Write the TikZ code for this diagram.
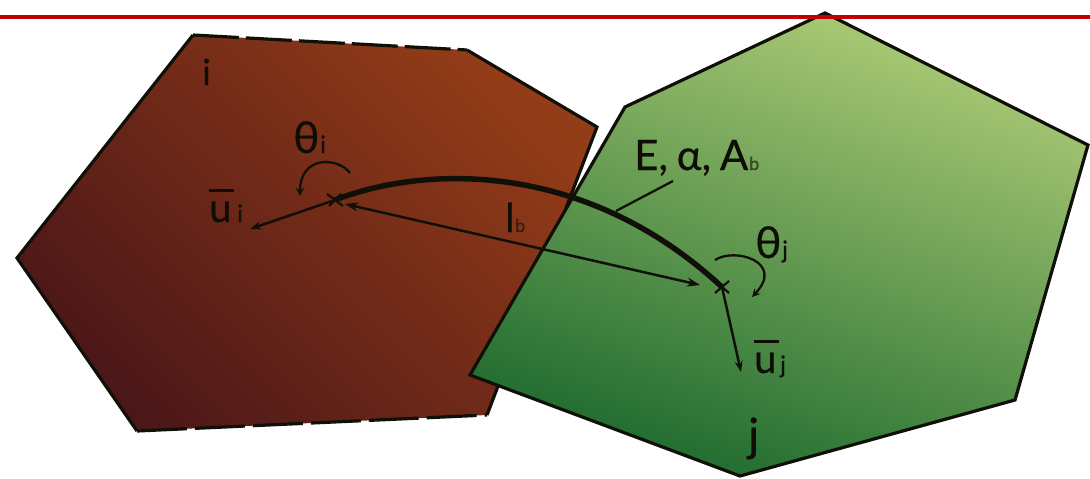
\documentclass[tikz,border=0pt]{standalone}
\usepackage{fontspec}
\setmainfont[FakeBold=0.5]{Lato}
\usetikzlibrary{arrows.meta}
\definecolor{rail}{HTML}{C00000}
\definecolor{inkc}{HTML}{101008}
\definecolor{redlo}{HTML}{4C1718}
\definecolor{redmid}{HTML}{843218}
\definecolor{redhi}{HTML}{933C18}
\definecolor{grnlo}{HTML}{1D6A2E}
\definecolor{grnmid}{HTML}{428843}
\definecolor{grnhi}{HTML}{ADCB76}
\newcommand{\barred}[1]{\rlap{\raisebox{30pt}{\rule{25pt}{2.6pt}}}#1}
\tikzset{
  edgeline/.style={draw=inkc,line width=3.2pt,line join=miter},
  lab/.style={inner sep=0pt,text=inkc!85!black,font=\fontsize{40}{42}\selectfont,anchor=base west},
  sublab/.style={inner sep=0pt,text=inkc,font=\fontsize{24}{26}\selectfont,anchor=base west},
  tinylab/.style={inner sep=0pt,text=inkc,opacity=.6,font=\fontsize{18}{20}\selectfont,anchor=base west},
  vec/.style={draw=inkc,line width=2.5pt,-{Stealth[length=11pt,width=8pt]}},
  turn/.style={draw=inkc,line width=2.3pt,-{Stealth[length=8pt,width=8pt]}},
  crossm/.style={draw=inkc,line width=2.2pt}
}
\begin{document}
\begin{tikzpicture}[x=1pt,y=-1pt]
\useasboundingbox (0,0) rectangle (1090,479);
% red cell
\shade[left color=redlo,middle color=redmid,right color=redhi,shading angle=135]
  (193,35)--(467,50)--(597,127)--(487,415)--(137,431)--(17,258)--cycle;
\draw[edgeline] (467,50)--(597,127)--(487,415) (137,431)--(17,258)--(193,35);
\draw[edgeline,dash pattern=on 46pt off 7pt] (193,35)--(467,50);
\draw[edgeline,dash pattern=on 50pt off 8pt] (137,431)--(487,415);
% green cell
\shade[left color=grnlo,middle color=grnmid,right color=grnhi,shading angle=160]
  (625,107)--(825,13)--(1088,145)--(1015,400)--(740,476)--(470,375)--cycle;
\draw[edgeline] (625,107)--(825,13)--(1088,145)--(1015,400)--(740,476)--(470,375)--cycle;
% top rule
\coordinate (railL) at (0,17);
\coordinate (railR) at (1090,17);
\draw[rail,line width=4pt] (railL)--(railR);
% centres
\coordinate (ci) at (335,200);
\coordinate (cj) at (722,287);
\coordinate (ue) at (250,229);
\coordinate (uf) at (741,372);
\coordinate (lbi) at (345,204);
\coordinate (lbj) at (700,285);
\coordinate (leadA) at (616,211);
\coordinate (leadB) at (673,181);
% beam
\draw[inkc,line width=5.5pt] (ci) .. controls (425,165) and (585,160) .. (cj);
\draw[vec] (ci)--(ue);
\draw[vec] (cj)--(uf);
\draw[vec,{Stealth[length=13pt,width=9pt]}-{Stealth[length=13pt,width=9pt]}] (lbi)--(lbj);
\draw[inkc,line width=2.3pt] (leadA)--(leadB);
\draw[crossm] ([shift={(-8,-6)}]ci)--([shift={(8,6)}]ci) ([shift={(-6,6)}]ci)--([shift={(6,-6)}]ci);
\draw[crossm] ([shift={(-7,-6)}]cj)--([shift={(7,6)}]cj) ([shift={(-7,6)}]cj)--([shift={(7,-6)}]cj);
\draw[turn] (350,173) .. controls (338,157) and (300,155) .. (300,196);
\draw[turn] (715,260) .. controls (735,247) and (785,262) .. (752,297);
% labels
\node[lab,font=\fontsize{36}{38}\selectfont] (li) at (202,85) {i};
\node[lab,font=\fontsize{46}{48}\selectfont] (lj) at (748,451) {j};
\node[lab,font=\fontsize{44}{46}\selectfont] (ltheti) at (293,153) {θ};
\node[sublab] (lthetis) at (320,153) {i};
\node[lab,font=\fontsize{44}{46}\selectfont] (lthetj) at (755,258) {θ};
\node[sublab] (lthetjs) at (782,258) {j};
\node[lab] (lui) at (209,222) {\barred{u}};
\node[sublab] (luis) at (237,222) {i};
\node[lab] (luj) at (754,373) {\barred{u}};
\node[sublab] (lujs) at (780,373) {j};
\node[lab] (llb) at (505,232) {l};
\node[tinylab] (llbs) at (515,232) {b};
\node[lab,font=\fontsize{42}{44}\selectfont] (lE) at (634,170) {E,\kern-2pt\ α,\kern-2pt\ A};
\node[tinylab] (lAs) at (749,170) {b};
\end{tikzpicture}
\end{document}
